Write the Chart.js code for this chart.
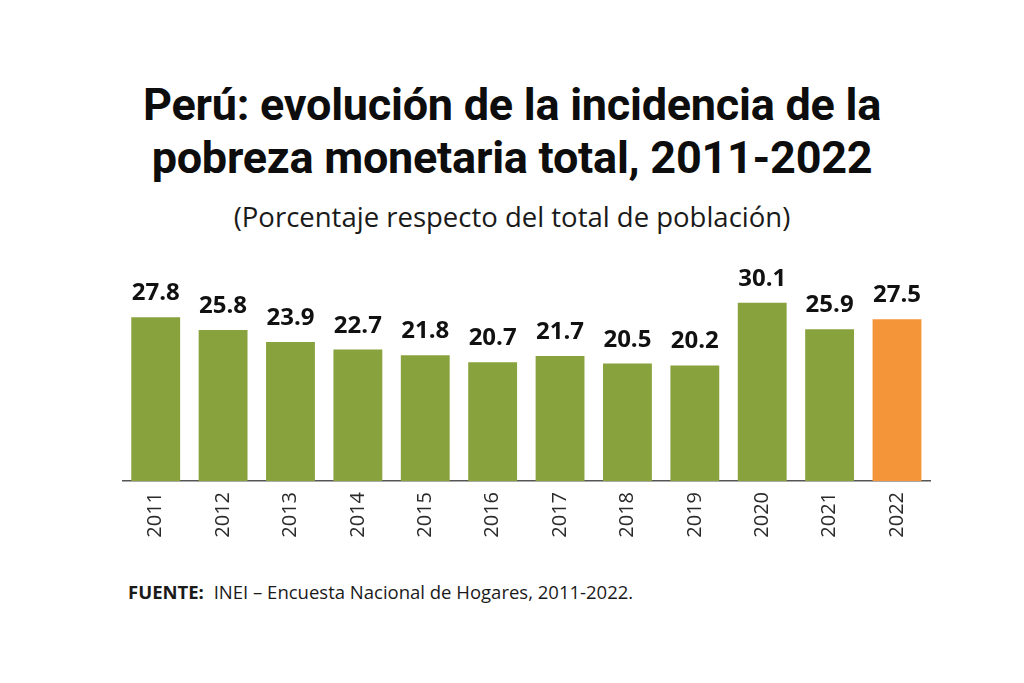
<!DOCTYPE html>
<html lang="es">
<head>
<meta charset="utf-8">
<title>Perú: pobreza monetaria 2011-2022</title>
<script src="https://cdn.jsdelivr.net/npm/chart.js@4.4.0/dist/chart.umd.min.js"></script>
<style>
    html, body { margin: 0; padding: 0; background: #fff; }
    body { width: 1024px; height: 683px; position: relative; overflow: hidden; font-family: "Open Sans", sans-serif; color: #111; }
    #title {
        position: absolute; left: 0; top: 78px; width: 1024px; text-align: center;
        font-family: Roboto, sans-serif; font-weight: 700; font-size: 45px; line-height: 53px;
        letter-spacing: -0.25px; color: #0d0d0d;
    }
    #subtitle {
        position: absolute; left: 0; top: 199px; width: 1024px; text-align: center;
        font-size: 27.5px; line-height: 36px; color: #1a1a1a;
    }
    #chartBox { position: absolute; left: 122px; top: 269px; width: 810px; height: 276px; }
    #source { position: absolute; left: 128px; top: 579px; font-size: 18.5px; line-height: 26px; color: #1a1a1a; }
    #source b { font-weight: 700; margin-right: 5px; }
</style>
</head>
<body>
<div id="title">Perú: evolución de la incidencia de la<br>pobreza monetaria total, 2011-2022</div>
<div id="subtitle">(Porcentaje respecto del total de población)</div>
<div id="chartBox"><canvas id="povertyChart"></canvas></div>
<div id="source"><b>FUENTE:</b> INEI – Encuesta Nacional de Hogares, 2011-2022.</div>

<script>
// Data
const years = ['2011', '2012', '2013', '2014', '2015', '2016', '2017', '2018', '2019', '2020', '2021', '2022'];
const povertyRate = [27.8, 25.8, 23.9, 22.7, 21.8, 20.7, 21.7, 20.5, 20.2, 30.1, 25.9, 27.5];

const GREEN = '#88a23d';
const ORANGE = '#f5953a';

// value labels above each bar
const valueLabels = {
    id: 'valueLabels',
    afterDatasetsDraw(chart) {
        const ctx = chart.ctx;
        const meta = chart.getDatasetMeta(0);
        ctx.save();
        ctx.font = '700 24px "Open Sans", sans-serif';
        ctx.fillStyle = '#111';
        ctx.textAlign = 'center';
        ctx.textBaseline = 'alphabetic';
        meta.data.forEach((bar, i) => {
            ctx.fillText(povertyRate[i].toFixed(1), bar.x, bar.y - 17);
        });
        ctx.restore();
    }
};

function initializeChart() {
    const ctx = document.getElementById('povertyChart').getContext('2d');
    new Chart(ctx, {
        type: 'bar',
        data: {
            labels: years,
            datasets: [{
                data: povertyRate,
                backgroundColor: years.map((y, i) => i === years.length - 1 ? ORANGE : GREEN),
                barPercentage: 0.725,
                categoryPercentage: 1
            }]
        },
        options: {
            responsive: true,
            maintainAspectRatio: false,
            animation: false,
            layout: { padding: 0 },
            plugins: {
                legend: { display: false },
                tooltip: { enabled: false }
            },
            scales: {
                x: {
                    grid: { display: false, drawTicks: false },
                    border: { display: true, color: '#555', width: 1.5 },
                    ticks: {
                        color: '#2a2a2a',
                        font: { family: '"Open Sans", sans-serif', size: 20 },
                        maxRotation: 90,
                        minRotation: 90,
                        padding: 11
                    },
                    afterFit(scale) { scale.height = 64; }
                },
                y: {
                    display: false,
                    min: 2,
                    max: 35.4
                }
            }
        },
        plugins: [valueLabels]
    });
}

document.addEventListener('DOMContentLoaded', initializeChart);
</script>
</body>
</html>
